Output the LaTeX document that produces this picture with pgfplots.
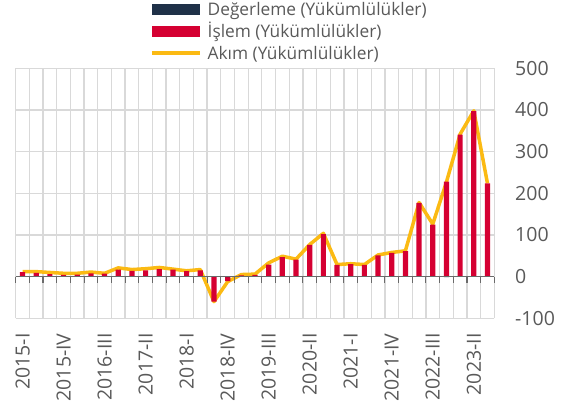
\documentclass[border=0pt]{standalone}
\usepackage{fontspec}
\setmainfont{Open Sans}
\usepackage{pgfplots}
\usepackage{pgfplotstable}
\pgfplotsset{compat=1.18}

\definecolor{navy}{HTML}{1F3148}
\definecolor{crimson}{HTML}{D50032}
\definecolor{amber}{HTML}{FBBA13}
\definecolor{txtgray}{HTML}{595959}
\definecolor{gridgray}{HTML}{D9D9D9}
\definecolor{axgray}{HTML}{6A6A6A}

\newcommand{\ticksize}{\fontsize{19.5}{22}\selectfont}
\newcommand{\legsize}{\fontsize{17.3}{20}\selectfont}

% quarters 2015-I .. 2023-III, plotted at category centres
\pgfplotstableread{
x    deg  isl  akim
0.5  1    10   12
1.5  1    8    12
2.5  1    5    10
3.5  1    3    8
4.5  1    4    8
5.5  1    7    11
6.5  1    6    8
7.5  1    16   21
8.5  1    13   17
9.5  1    14   19
10.5 1    17   22
11.5 1    16   18
12.5 1    12   14
13.5 1    14   17
14.5 0    -60  -60
15.5 -1   -10  -12
16.5 1    2    5
17.5 1    3    6
18.5 1    28   33
19.5 1    46   49
20.5 1    40   42
21.5 1    75   77
22.5 1    101  104
23.5 1    27   29
24.5 1    29   31
25.5 1    27   29
26.5 1    50   52
27.5 1    56   58
28.5 1    60   62
29.5 1    176  178
30.5 1    124  126
31.5 -1   228  227
32.5 1    340  342
33.5 1    396  398
34.5 0    224  224
}\flows

\begin{document}
\begin{tikzpicture}
\begin{axis}[
    name=main,
    width=478.6pt, height=250pt, scale only axis,
    xmin=0, xmax=35, ymin=-100, ymax=500,
    ybar stacked, bar width=5.2pt,
    axis line style={draw=none},
    xtick={0.5,3.5,...,33.5},
    xticklabels={2015-I,2015-IV,2016-III,2017-II,2018-I,2018-IV,2019-III,2020-II,2021-I,2021-IV,2022-III,2023-II},
    minor xtick={0,1,...,35},
    xminorgrids, xmajorgrids=false,
    ytick={-100,0,...,500},
    ymajorgrids,
    grid style={gridgray, line width=1.3pt},
    minor grid style={gridgray, line width=1.3pt},
    major tick length=0pt, minor tick length=0pt,
    tick style={draw=none},
    yticklabel pos=right,
    /pgf/number format/assume math mode=true,
    xticklabel style={font=\ticksize, color=txtgray, yshift=-15pt, rotate=90, anchor=east, inner sep=0pt},
    yticklabel style={font=\ticksize, color=txtgray, anchor=west, inner sep=0pt, xshift=20.7pt},
    legend style={draw=none, fill=none, at={(0.2806,1)}, anchor=south west, yshift=7pt,
        font=\legsize, text=txtgray, inner sep=0pt, row sep=6pt,
        nodes={inner sep=0pt, text height=14pt, text depth=2pt},
        /tikz/every odd column/.append style={column sep=6pt}},
    legend cell align=left,
]
\addplot[fill=navy, draw=none,
    legend image code/.code={\fill[navy] (0pt,-5.5pt) rectangle (48pt,5.5pt);}]
    table[x=x, y=deg] {\flows};
\addlegendentry{Değerleme (Yükümlülükler)}
\addplot[fill=crimson, draw=none,
    legend image code/.code={\fill[crimson] (0pt,-5.5pt) rectangle (48pt,5.5pt);}]
    table[x=x, y=isl] {\flows};
\addlegendentry{İşlem (Yükümlülükler)}
\addplot[stack plots=false, sharp plot, draw=amber, line width=3.5pt, line join=round, no marks,
    legend image code/.code={\draw[amber, line width=3.5pt] (0pt,0pt) -- (48pt,0pt);}]
    table[x=x, y=akim] {\flows};
\addlegendentry{Akım (Yükümlülükler)}
\end{axis}
% zero line with its small downward ticks
\begin{axis}[
    width=478.6pt, height=250pt, scale only axis,
    xmin=0, xmax=35, ymin=-100, ymax=500,
    axis x line=middle, axis y line=none,
    xtick={0,1,...,35}, xticklabels={},
    x axis line style={axgray, line width=1.3pt, -},
    x tick style={axgray, line width=1.1pt},
    tick align=outside, major tick length=6pt,
]
\end{axis}
\path (main.south west) ++(-15.7pt,-93.7pt) rectangle ++(565pt,412pt);
\end{tikzpicture}
\end{document}
